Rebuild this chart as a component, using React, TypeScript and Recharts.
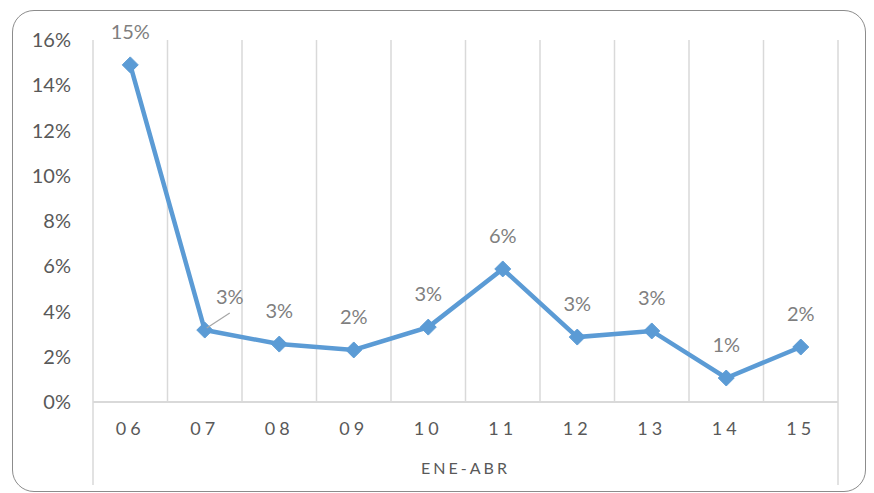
import {
  CartesianGrid,
  Label,
  LabelList,
  Line,
  LineChart,
  ReferenceLine,
  XAxis,
  YAxis,
} from "recharts";

const categories = ["06", "07", "08", "09", "10", "11", "12", "13", "14", "15"];
const values = [0.149, 0.0318, 0.0256, 0.023, 0.0331, 0.0588, 0.0287, 0.0314, 0.0106, 0.0243];
const yTicks = [0, 0.02, 0.04, 0.06, 0.08, 0.1, 0.12, 0.14, 0.16];
const axisTitle = "ENE-ABR";

const centers = categories.map((_, i) => i + 0.5);
const boundaries = categories.map((_, i) => i).concat(categories.length);

const data = categories.map((cat, i) => ({ pos: i + 0.5, cat, value: values[i] }));

const BLUE = "#5b9bd5";
const GRID = "#d9d9d9";
const FONT = "Lato, 'Open Sans', sans-serif";
// how far below zero the outer category dividers reach
const DIVIDER_DEPTH = -0.0367;

const Diamond = (props: any) => {
  const { cx, cy } = props;
  if (cx == null || cy == null) return null;
  const r = 8;
  return (
    <path
      d={`M${cx},${cy - r}L${cx + r},${cy}L${cx},${cy + r}L${cx - r},${cy}Z`}
      fill={BLUE}
      stroke={BLUE}
    />
  );
};

const PointLabel = (props: any) => {
  const { x, y, value, index } = props;
  const text = `${Math.round(value * 100)}%`;
  if (index === 1) {
    // this one sits off to the side with a leader line
    return (
      <g>
        <line x1={x + 2} y1={y - 2} x2={x + 25} y2={y - 17} stroke="#a6a6a6" strokeWidth={1.2} />
        <text
          x={x + 25}
          y={y - 34}
          textAnchor="middle"
          dominantBaseline="central"
          fill="#7f7f7f"
          fontSize={20}
          fontFamily={FONT}
        >
          {text}
        </text>
      </g>
    );
  }
  return (
    <text
      x={x}
      y={y - 34}
      textAnchor="middle"
      dominantBaseline="central"
      fill="#7f7f7f"
      fontSize={20}
      fontFamily={FONT}
    >
      {text}
    </text>
  );
};

export default function App() {
  return (
    <div style={{ position: "absolute", left: 0, top: 0, width: 874, height: 493 }}>
      <div
        style={{
          position: "absolute",
          left: 12,
          top: 10,
          width: 852,
          height: 480,
          border: "1.5px solid #8c8c8c",
          borderRadius: 22,
          background: "#fff",
        }}
      />
      <LineChart
        width={874}
        height={493}
        data={data}
        margin={{ top: 40, right: 36, bottom: 11, left: 33 }}
        style={{ position: "absolute", left: 0, top: 0 }}
      >
        <XAxis
          xAxisId="grid"
          dataKey="pos"
          type="number"
          domain={[0, categories.length]}
          ticks={boundaries}
          hide
        />
        <CartesianGrid
          xAxisId="grid"
          horizontal={false}
          stroke={GRID}
          strokeWidth={1.5}
        />
        <XAxis
          dataKey="pos"
          type="number"
          domain={[0, categories.length]}
          ticks={centers}
          tickFormatter={(v: number) => categories[Math.round(v - 0.5)]}
          height={80}
          axisLine={{ stroke: GRID, strokeWidth: 2 }}
          tickLine={false}
          tickSize={0}
          tickMargin={20}
          tick={{ fill: "#595959", fontSize: 18, fontFamily: FONT, letterSpacing: 4 }}
          interval={0}
        >
          <Label
            value={axisTitle}
            position="insideBottom"
            offset={8}
            style={{ fill: "#595959", fontSize: 16, fontFamily: FONT, letterSpacing: 3 }}
          />
        </XAxis>
        <YAxis
          type="number"
          domain={[0, 0.16]}
          ticks={yTicks}
          width={60}
          axisLine={false}
          tickLine={false}
          tickSize={0}
          tickMargin={22}
          tickFormatter={(v: number) => `${Math.round(v * 100)}%`}
          tick={{ fill: "#595959", fontSize: 20, fontFamily: FONT }}
        />
        <ReferenceLine
          xAxisId="grid"
          segment={[{ x: 0, y: 0 }, { x: 0, y: DIVIDER_DEPTH }]}
          stroke={GRID}
          strokeWidth={1.5}
          ifOverflow="visible"
        />
        <ReferenceLine
          xAxisId="grid"
          segment={[{ x: categories.length, y: 0 }, { x: categories.length, y: DIVIDER_DEPTH }]}
          stroke={GRID}
          strokeWidth={1.5}
          ifOverflow="visible"
        />
        <Line
          dataKey="value"
          stroke={BLUE}
          strokeWidth={4.5}
          dot={<Diamond />}
          activeDot={false}
          isAnimationActive={false}
        >
          <LabelList dataKey="value" content={<PointLabel />} />
        </Line>
      </LineChart>
    </div>
  );
}
